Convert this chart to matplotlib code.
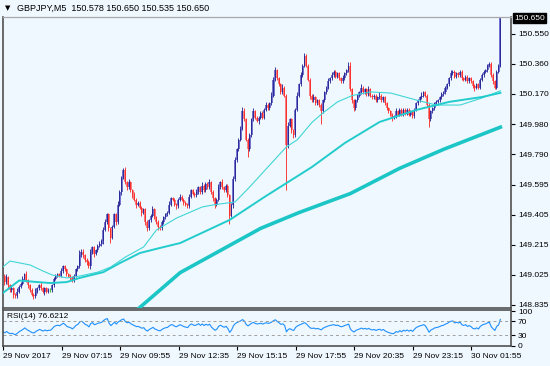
import numpy as np
import matplotlib
from matplotlib import pyplot as plt
from matplotlib import transforms

matplotlib.use('Agg')

# GBPJPY M5, one value per bar
first_open = 149.11
close = [
    149.02, 148.98, 149.01, 148.96, 148.93, 148.94, 148.90, 148.89, 148.92, 148.95,
    148.97, 149.00, 149.03, 148.99, 148.96, 148.93, 148.90, 148.89, 148.92, 148.94,
    148.96, 148.94, 148.92, 148.94, 148.92, 148.93, 148.93, 148.96, 149.00, 149.02,
    149.03, 149.02, 149.05, 149.08, 149.06, 149.03, 149.02, 149.01, 148.99, 149.02,
    149.06, 149.08, 149.15, 149.17, 149.15, 149.12, 149.11, 149.08, 149.17, 149.20,
    149.16, 149.18, 149.21, 149.22, 149.24, 149.31, 149.36, 149.41, 149.32, 149.26,
    149.33, 149.41, 149.36, 149.47, 149.55, 149.64, 149.69, 149.61, 149.58, 149.61,
    149.56, 149.53, 149.50, 149.47, 149.48, 149.45, 149.42, 149.44, 149.36, 149.32,
    149.37, 149.40, 149.44, 149.39, 149.36, 149.33, 149.32, 149.36, 149.39, 149.41,
    149.42, 149.47, 149.51, 149.50, 149.47, 149.46, 149.50, 149.52, 149.50, 149.48,
    149.47, 149.46, 149.52, 149.56, 149.54, 149.53, 149.55, 149.58, 149.55, 149.59,
    149.56, 149.60, 149.58, 149.61, 149.55, 149.51, 149.47, 149.50, 149.58, 149.61,
    149.58, 149.56, 149.59, 149.53, 149.40, 149.47, 149.63, 149.75, 149.82, 149.88,
    149.95, 150.06, 150.01, 149.88, 149.82, 149.91, 150.01, 150.06, 150.02, 150.00,
    150.02, 150.05, 150.02, 150.07, 150.10, 150.08, 150.11, 150.16, 150.26, 150.32,
    150.27, 150.23, 150.18, 150.21, 150.16, 149.85, 149.97, 150.01, 149.94, 149.91,
    150.07, 150.16, 150.23, 150.29, 150.35, 150.41, 150.35, 150.26, 150.16, 150.13,
    150.15, 150.11, 150.13, 150.10, 150.06, 150.13, 150.18, 150.21, 150.25, 150.27,
    150.29, 150.31, 150.28, 150.30, 150.27, 150.25, 150.27, 150.30, 150.32, 150.35,
    150.20, 150.13, 150.08, 150.13, 150.16, 150.18, 150.21, 150.18, 150.20, 150.17,
    150.20, 150.16, 150.15, 150.16, 150.13, 150.15, 150.16, 150.13, 150.15, 150.11,
    150.08, 150.06, 150.04, 150.02, 150.03, 150.06, 150.04, 150.07, 150.04, 150.07,
    150.05, 150.07, 150.04, 150.06, 150.03, 150.07, 150.11, 150.13, 150.15, 150.16,
    150.18, 150.16, 150.10, 150.01, 150.06, 150.08, 150.11, 150.12, 150.13, 150.15,
    150.17, 150.18, 150.21, 150.23, 150.27, 150.30, 150.31, 150.28, 150.30, 150.29,
    150.31, 150.27, 150.26, 150.28, 150.25, 150.27, 150.25, 150.22, 150.21, 150.23,
    150.21, 150.26, 150.29, 150.31, 150.32, 150.35, 150.36, 150.29, 150.25, 150.21,
    150.31, 150.35, 150.65,
]
# wick lengths above / below the body, in 0.01 yen
upper_wick = [
    2, 1, 2, 1, 1, 2, 1, 1, 2, 1,  1, 2, 1, 2, 1, 1, 1, 1, 2, 1,
    1, 2, 1, 1, 1, 1, 1, 1, 1, 1,  1, 1, 2, 1, 1, 1, 1, 1, 1, 1,
    1, 1, 3, 2, 2, 1, 1, 1, 2, 1,  1, 1, 1, 2, 1, 2, 2, 1, 1, 1,
    1, 1, 1, 2, 1, 1, 1, 2, 1, 2,  1, 1, 2, 1, 1, 1, 1, 1, 1, 1,
    1, 1, 2, 1, 1, 1, 1, 1, 1, 1,  1, 2, 1, 1, 1, 1, 1, 2, 1, 1,
    1, 1, 2, 1, 1, 1, 2, 1, 1, 2,  1, 1, 1, 2, 1, 1, 1, 1, 2, 1,
    2, 1, 1, 1, 1, 1, 2, 2, 1, 1,  2, 3, 2, 1, 1, 1, 1, 2, 1, 1,
    1, 1, 1, 1, 2, 1, 1, 2, 2, 2,  1, 1, 1, 2, 1, 1, 2, 1, 1, 1,
    1, 2, 1, 2, 1, 2, 1, 1, 1, 1,  2, 1, 1, 1, 1, 1, 1, 1, 2, 1,
    2, 1, 1, 1, 1, 1, 2, 1, 1, 2,  2, 1, 1, 1, 1, 1, 2, 1, 1, 1,
    2, 1, 1, 1, 1, 1, 2, 1, 1, 1,  1, 1, 1, 1, 1, 2, 1, 1, 1, 1,
    1, 1, 1, 1, 1, 1, 1, 1, 1, 2,  1, 1, 1, 1, 1, 1, 1, 1, 1, 1,
    1, 1, 1, 1, 1, 2, 1, 1, 1, 1,  1, 1, 1, 1, 1, 1, 1, 1, 1, 1,
    1, 1, 1, 1, 1, 1, 1, 1, 1, 1,  1, 1, 0,
]
lower_wick = [
    1, 2, 1, 2, 1, 1, 2, 1, 1, 1,  1, 1, 1, 1, 2, 1, 1, 2, 1, 1,
    1, 1, 1, 2, 1, 1, 1, 1, 1, 1,  1, 1, 1, 1, 1, 1, 1, 2, 1, 1,
    1, 1, 1, 1, 2, 1, 2, 1, 2, 1,  2, 1, 1, 1, 1, 2, 1, 1, 2, 3,
    1, 1, 2, 1, 1, 2, 1, 1, 2, 1,  1, 2, 1, 2, 1, 1, 2, 1, 2, 2,
    1, 1, 1, 1, 1, 2, 1, 1, 1, 1,  1, 1, 1, 1, 1, 2, 1, 1, 1, 1,
    1, 1, 1, 1, 1, 1, 1, 1, 1, 1,  1, 1, 1, 1, 1, 2, 2, 1, 1, 1,
    1, 1, 1, 1, 5, 1, 2, 1, 1, 1,  1, 1, 1, 1, 5, 1, 1, 1, 1, 1,
    2, 1, 1, 1, 1, 1, 1, 1, 1, 1,  1, 1, 1, 1, 1, 29, 2, 1, 2, 2,
    1, 1, 1, 1, 1, 1, 1, 1, 2, 1,  1, 1, 1, 1, 8, 1, 1, 1, 1, 1,
    1, 1, 1, 1, 1, 1, 1, 1, 1, 1,  1, 2, 2, 1, 1, 1, 1, 1, 1, 1,
    1, 1, 1, 1, 1, 1, 1, 1, 1, 1,  1, 1, 1, 2, 1, 1, 1, 1, 1, 1,
    1, 1, 1, 1, 1, 1, 1, 1, 1, 1,  1, 1, 1, 5, 1, 1, 1, 1, 1, 1,
    1, 1, 1, 1, 1, 1, 1, 1, 1, 1,  1, 1, 1, 1, 1, 1, 1, 1, 2, 1,
    1, 1, 1, 1, 1, 1, 1, 1, 2, 1,  1, 1, 1,
]

# moving averages, read at a few bars
fast_idx = [0, 4, 15, 22, 27, 35, 42, 52, 59, 67, 77, 84, 95, 109, 115, 127, 135,
            155, 161, 169, 175, 183, 191, 201, 212, 226, 237, 250, 262, 272]
fast_val = [149.075, 149.113, 149.088, 149.050, 149.025, 149.006, 149.018, 149.043,
            149.075, 149.138, 149.202, 149.309, 149.385, 149.455, 149.468, 149.487,
            149.582, 149.835, 149.88, 149.99, 150.05, 150.12, 150.16, 150.183,
            150.176, 150.132, 150.100, 150.100, 150.145, 150.19]
mid_idx = [0, 9, 19, 26, 35, 42, 55, 64, 75, 86, 97, 124, 143, 169, 187, 206, 226,
           244, 262, 272]
mid_val = [148.91, 148.99, 148.98, 148.974, 148.98, 149.006, 149.043, 149.10, 149.164,
           149.196, 149.227, 149.373, 149.518, 149.708, 149.86, 149.993, 150.069,
           150.12, 150.151, 150.177]
slow_idx = [74, 97, 119, 141, 162, 190, 217, 241, 272]
slow_val = [148.81, 149.04, 149.18, 149.32, 149.42, 149.54, 149.70, 149.82, 149.96]

price_ticks = [150.550, 150.360, 150.170, 149.980, 149.790, 149.595, 149.405,
               149.215, 149.025, 148.835]
last_price = 150.650
time_ticks = [0, 32, 64, 96, 128, 160, 192, 224, 256]
time_labels = ['29 Nov 2017', '29 Nov 07:15', '29 Nov 09:55', '29 Nov 12:35',
               '29 Nov 15:15', '29 Nov 17:55', '29 Nov 20:35', '29 Nov 23:15',
               '30 Nov 01:55']
rsi_ticks = [100, 70, 30, 0]
rsi_seed = 0.015  # starting average gain / loss
title = 'GBPJPY,M5  150.578 150.650 150.535 150.650'
rsi_title = 'RSI(14) 76.6212'

plt.rcParams['font.family'] = ['Liberation Sans', 'DejaVu Sans']
plt.rcParams['font.size'] = 6

bg = '#f0f8ff'
frame = '#505050'
W, H = 550, 366

fig = plt.figure(figsize=(5.5, 3.66), dpi=100, facecolor=bg)
ax = fig.add_axes([3 / W, 1 - 308 / H, 508 / W, 291 / H], facecolor=bg)
rax = fig.add_axes([3 / W, 1 - 346 / H, 508 / W, 36 / H], facecolor=bg)

c = np.array(close)
o = np.concatenate([[first_open], c[:-1]])
hi = np.maximum(o, c) + np.array(upper_wick) * 0.01
lo = np.minimum(o, c) - np.array(lower_wick) * 0.01
idx = np.arange(len(c))
up = c > o
dn = c < o
dj = c == o

ax.bar(idx[up], (c - o)[up], bottom=o[up], width=1.1, color='#7474cc', linewidth=0, zorder=2)
ax.vlines(idx[up] - 0.2, lo[up], hi[up], color='#1c1c8e', lw=0.6, zorder=2)
ax.bar(idx[dn], (o - c)[dn], bottom=c[dn], width=1.1, color='#f58080', linewidth=0, zorder=2)
ax.vlines(idx[dn] - 0.2, lo[dn], hi[dn], color='#ff2020', lw=0.6, zorder=2)
ax.vlines(idx[dj], lo[dj], hi[dj], color='#40c040', lw=0.9, zorder=2)

ax.plot(fast_idx, fast_val, color='#3fd6d6', lw=0.8, zorder=3)
ax.plot(mid_idx, mid_val, color='#22cccc', lw=1.4, zorder=3)
ax.plot(slow_idx, slow_val, color='#1dc6c6', lw=2.6, zorder=3)

ax.set_xlim(0.16, 277.8)
ax.set_ylim(148.816, 150.657)
ax.set_xticks([])
ax.yaxis.tick_right()
ax.set_yticks(price_ticks)
ax.set_yticklabels(['%.3f' % p for p in price_ticks])
ax.tick_params(axis='y', length=3, width=0.8, pad=2, colors='black')

trans = transforms.blended_transform_factory(ax.transAxes, ax.transData)
ax.text(1.006, last_price, '%.3f' % last_price, transform=trans, color='white',
        va='center', ha='left',
        bbox=dict(boxstyle='square,pad=0.15', fc='black', ec='black'))

# RSI(14), Wilder smoothing
avg_gain, avg_loss = rsi_seed, rsi_seed
rsi = []
for d in np.diff(np.concatenate([[first_open], c])):
    avg_gain = (avg_gain * 13 + max(d, 0)) / 14
    avg_loss = (avg_loss * 13 + max(-d, 0)) / 14
    rsi.append(100 - 100 / (1 + avg_gain / avg_loss))

rax.plot(idx, rsi, color='#1e90ff', lw=0.8)
for lvl in [70, 30]:
    rax.axhline(lvl, color='#a0a0a0', lw=0.7, ls=(0, (3, 3)))
rax.set_xlim(0.16, 277.8)
rax.set_ylim(-0.6, 102.9)
rax.yaxis.tick_right()
rax.set_yticks(rsi_ticks)
rax.set_yticklabels([str(t) for t in rsi_ticks])
rax.tick_params(axis='y', length=3, width=0.8, pad=2)
rax.set_xticks(time_ticks)
rax.set_xticklabels(time_labels, ha='left')
rax.tick_params(axis='x', length=3, width=0.8, pad=2)
rax.text(0.008, 0.93, rsi_title, transform=rax.transAxes, va='top', ha='left')

for a in (ax, rax):
    for s in a.spines.values():
        s.set_color(frame)
        s.set_linewidth(1.2)
ax.spines['top'].set_color('#a8a8a8')
ax.spines['top'].set_linewidth(0.9)

fig.text(5 / W, 1 - 8 / H, '\u25bc', fontsize=5, va='center', ha='left',
         family=['DejaVu Sans'])
fig.text(17 / W, 1 - 8 / H, title, va='center', ha='left', fontsize=6.5)

fig.savefig('out.png', dpi=100, facecolor=bg)
